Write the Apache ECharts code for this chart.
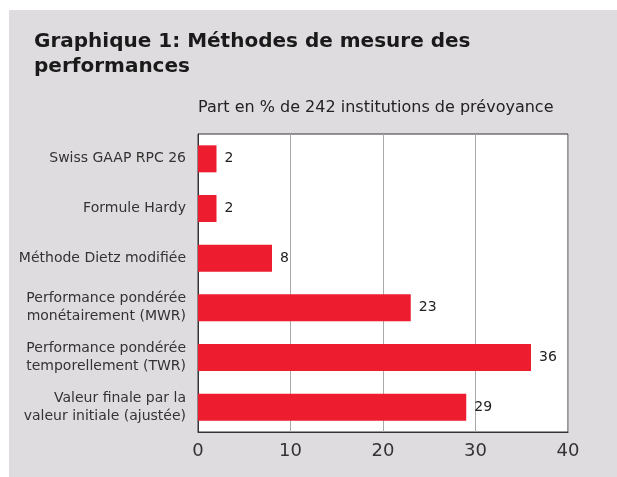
<!DOCTYPE html>
<html lang="fr">
<head>
    <meta charset="UTF-8">
    <title>Graphique 1</title>
    <script src="https://cdn.jsdelivr.net/npm/echarts@6/dist/echarts.min.js"></script>
    <style>
        body { margin: 0; background: #fff; }
        #chart { position: absolute; left: 9px; top: 10px; width: 608px; height: 467px; background: #dfdcdf; }
    </style>
</head>
<body>
    <div id="chart"></div>
    <script>
        // données
        let categories = [
            'Swiss GAAP RPC 26',
            'Formule Hardy',
            'Méthode Dietz modifiée',
            'Performance pondérée\nmonétairement (MWR)',
            'Performance pondérée\ntemporellement (TWR)',
            'Valeur finale par la\nvaleur initiale (ajustée)'
        ];
        let values = [2, 2, 8, 23, 36, 29];
        let titleText = 'Graphique 1: Méthodes de mesure des\nperformances';
        let subtitleText = 'Part en % de 242 institutions de prévoyance';

        let font = 'DejaVu Sans';
        let chart = echarts.init(document.getElementById('chart'));
        chart.setOption({
            backgroundColor: 'transparent',
            animation: false,
            title: [{
                text: titleText,
                left: 20,
                top: 14,
                textStyle: { fontFamily: font, fontSize: 20, fontWeight: 'bold', color: '#1a1a1a', lineHeight: 25 }
            }, {
                text: subtitleText,
                left: 184,
                top: 85,
                textStyle: { fontFamily: font, fontSize: 16, fontWeight: 'normal', color: '#222' }
            }],
            grid: {
                left: 189,
                top: 124,
                width: 370,
                height: 298,
                show: true,
                backgroundColor: '#fff',
                borderColor: '#333',
                borderWidth: 1
            },
            xAxis: {
                type: 'value',
                min: 0,
                max: 40,
                interval: 10,
                axisLine: { show: true, lineStyle: { color: '#333' } },
                axisTick: { show: false },
                splitLine: { lineStyle: { color: '#aaa' } },
                axisLabel: { fontFamily: font, fontSize: 18, color: '#333', margin: 10 }
            },
            yAxis: {
                type: 'category',
                data: categories,
                inverse: true,
                axisLine: { show: true, lineStyle: { color: '#333' } },
                axisTick: { show: false },
                axisLabel: { fontFamily: font, fontSize: 14, color: '#333', lineHeight: 18, margin: 12 }
            },
            series: [{
                type: 'bar',
                data: values,
                barWidth: 27,
                itemStyle: { color: '#ed1c2e' },
                label: {
                    show: true,
                    position: 'right',
                    distance: 8,
                    fontFamily: font,
                    fontSize: 14,
                    color: '#222'
                }
            }]
        });
    </script>
</body>
</html>
